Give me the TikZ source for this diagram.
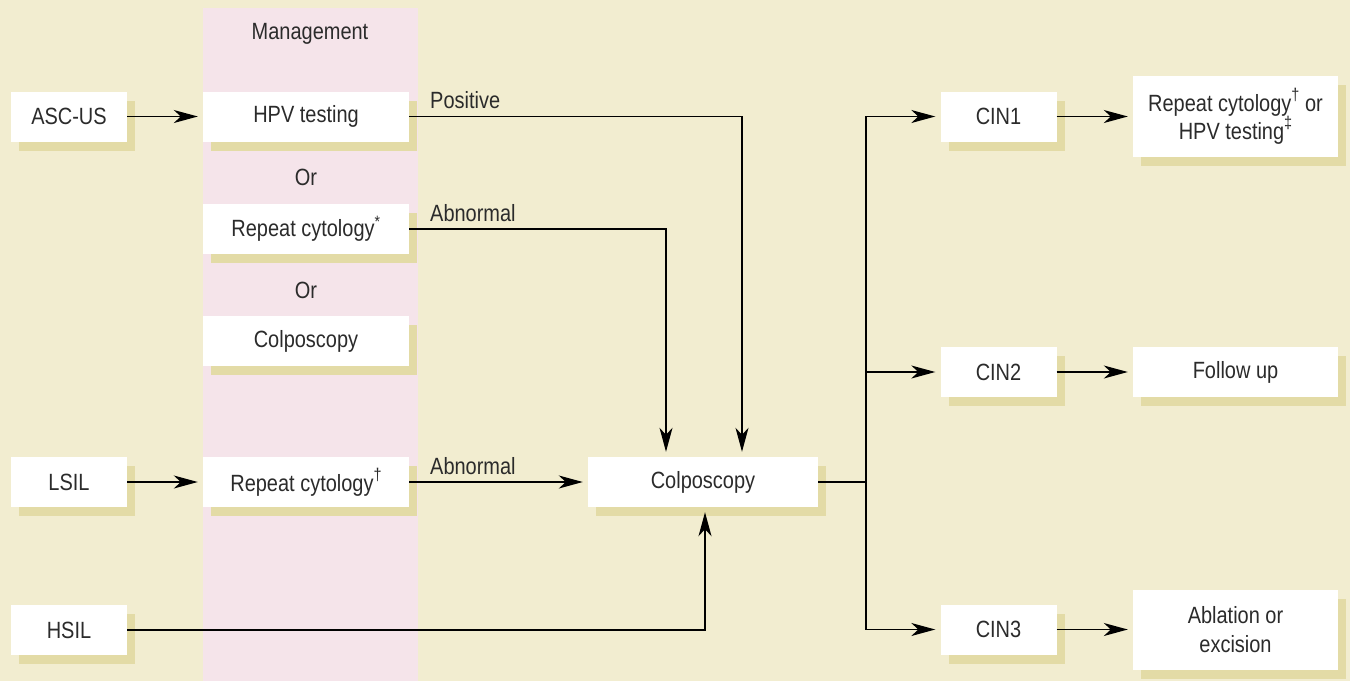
\documentclass[tikz,border=0pt]{standalone}
\usepackage{fontspec}
\setmainfont{Liberation Sans}[FakeStretch=0.85]
\usetikzlibrary{arrows.meta,shadows}
\definecolor{bgc}{HTML}{F2EDD0}
\definecolor{pinkc}{HTML}{F5E4EA}
\definecolor{shc}{HTML}{E3DBA6}
\definecolor{txc}{HTML}{2B2B2B}
\newcommand{\supd}[1]{\raisebox{0.45em}{\fontsize{17}{17}\selectfont #1}}
\begin{document}
\begin{tikzpicture}[x=1pt,y=-1pt,
  font=\fontsize{23.5}{27}\selectfont, text=txc,
  box/.style={fill=white, inner sep=0pt, align=center,
    drop shadow={shadow xshift=8pt, shadow yshift=-9pt, fill=shc, opacity=1}},
  sbox/.style={box, minimum width=116pt, minimum height=50pt},
  mbox/.style={box, minimum width=206pt, minimum height=50pt},
  arr/.style={line width=1.6pt, draw=black, shorten >=5pt,
    -{Stealth[length=24pt, width=13pt, inset=7pt]}},
  ln/.style={line width=1.6pt, draw=black},
  lbl/.style={anchor=west, inner sep=0pt}]
\fill[bgc] (0,0) rectangle (1350,681);
\useasboundingbox (0,0) rectangle (1350,681);
\fill[pinkc] (203,8) rectangle (418,681);
\node (mgmt) at (310,34) {Management};
% left column
\node[sbox] (ascus) at (69,116.5) {ASC-US};
\node[sbox] (lsil) at (69,482) {LSIL};
\node[sbox] (hsil) at (69,630) {HSIL};
% management column
\node[mbox] (hpv) at (306,116.5) {HPV testing};
\node (or1) at (306,177) {Or};
\node[mbox] (rep1) at (306,229) {Repeat cytology\textsuperscript{*}};
\node (or2) at (306,290) {Or};
\node[mbox] (colpl) at (306,341) {Colposcopy};
\node[mbox] (rep2) at (306,482) {Repeat cytology\supd{\dag}};
% center
\node[box, minimum width=230pt, minimum height=50pt] (colpo) at (703,482) {Colposcopy};
% CIN
\node[sbox] (cin1) at (998.5,116.5) {CIN1};
\node[sbox] (cin2) at (998.5,372) {CIN2};
\node[sbox] (cin3) at (998.5,629.5) {CIN3};
% outcomes
\node[mbox, minimum width=205pt, minimum height=81pt, font=\fontsize{23.5}{28}\selectfont] (out1) at (1235.5,116.5) {Repeat cytology\supd{\dag} or\\HPV testing\supd{\ddag}};
\node[mbox, minimum width=205pt] (out2) at (1235.5,372) {Follow up};
\node[mbox, minimum width=205pt, minimum height=80pt, font=\fontsize{23.5}{29}\selectfont] (out3) at (1235.5,629.5) {Ablation or\\excision};
% connectors
\draw[arr] (ascus.east) -- (hpv.west);
\draw[arr] (lsil.east) -- (rep2.west);
\draw[arr] (rep2.east) -- (colpo.west);
\draw[arr] (hpv.east) -| ([xshift=39pt]colpo.north);
\draw[arr] (rep1.east) -| ([xshift=-37pt]colpo.north);
\draw[arr] (hsil.east) -| ([xshift=2pt]colpo.south);
\node[lbl] (lpos) at (430,100) {Positive};
\node[lbl] (lab1) at (430,213) {Abnormal};
\node[lbl] (lab2) at (430,466) {Abnormal};
\coordinate (j) at (866,482);
\draw[ln] (colpo.east) -- (j);
\draw[arr] (j) |- (cin1.west);
\draw[arr] (j) |- (cin2.west);
\draw[arr] (j) |- (cin3.west);
\draw[arr] (cin1.east) -- (out1.west);
\draw[arr] (cin2.east) -- (out2.west);
\draw[arr] (cin3.east) -- (out3.west);
\end{tikzpicture}
\end{document}
